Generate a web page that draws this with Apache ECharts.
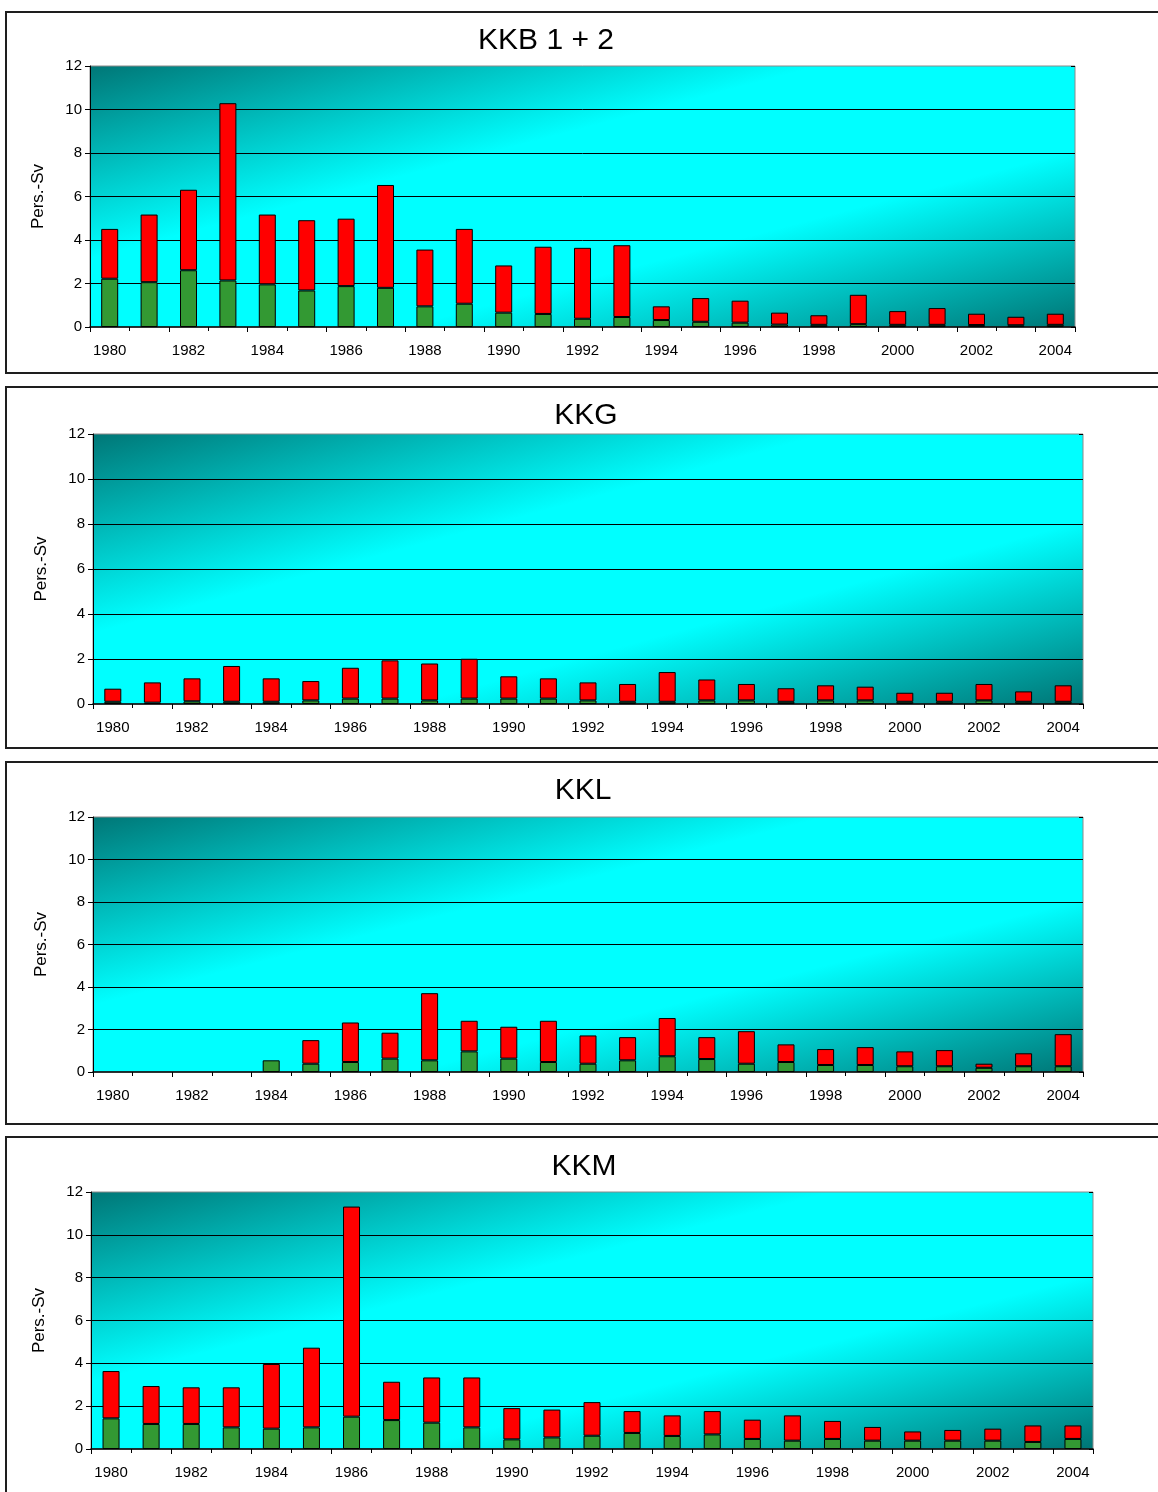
<!DOCTYPE html>
<html>
<head>
<meta charset="utf-8">
<script src="https://cdn.jsdelivr.net/npm/echarts@6/dist/echarts.min.js"></script>
<style>
html,body{margin:0;padding:0;background:#fff;}
#c{width:1158px;height:1492px;}
</style>
</head>
<body>
<div id="c"></div>
<script>
// ---- data ----
const years = ['1980','1981','1982','1983','1984','1985','1986','1987','1988','1989','1990','1991','1992',
  '1993','1994','1995','1996','1997','1998','1999','2000','2001','2002','2003','2004'];
const yTicks = [0, 2, 4, 6, 8, 10, 12];
const titles = ['KKB 1 + 2', 'KKG', 'KKL', 'KKM'];
const yName = 'Pers.-Sv';

const kkbGreen = [2.22,2.06,2.61,2.14,1.96,1.68,1.88,1.80,0.95,1.07,0.66,0.60,0.38,0.46,0.32,0.24,0.20,0.11,0.10,0.13,0.10,0.10,0.09,0.08,0.10];
const kkbRed   = [2.29,3.11,3.70,8.15,3.21,3.23,3.10,4.73,2.61,3.44,2.17,3.09,3.26,3.30,0.63,1.09,1.01,0.55,0.44,1.35,0.63,0.77,0.52,0.39,0.51];

const kkgGreen = [0.10,0.06,0.12,0.10,0.10,0.16,0.24,0.24,0.16,0.24,0.24,0.24,0.16,0.10,0.10,0.16,0.16,0.10,0.16,0.16,0.10,0.10,0.16,0.10,0.10];
const kkgRed   = [0.58,0.90,1.02,1.59,1.04,0.86,1.37,1.70,1.64,1.77,0.99,0.90,0.80,0.79,1.32,0.93,0.73,0.60,0.67,0.61,0.40,0.40,0.73,0.46,0.73];

const kklGreen = [null,null,null,null,0.55,0.39,0.47,0.63,0.55,0.97,0.63,0.47,0.39,0.55,0.74,0.61,0.39,0.47,0.33,0.33,0.27,0.27,0.20,0.27,0.27];
const kklRed   = [null,null,null,null,null,1.11,1.86,1.22,3.16,1.44,1.50,1.94,1.33,1.09,1.80,1.03,1.53,0.83,0.75,0.84,0.70,0.76,0.19,0.61,1.51];

const kkmGreen = [1.43,1.17,1.17,1.01,0.95,1.01,1.51,1.35,1.23,1.01,0.45,0.54,0.62,0.75,0.61,0.68,0.47,0.39,0.47,0.39,0.39,0.39,0.39,0.33,0.47];
const kkmRed   = [2.21,1.77,1.71,1.87,3.02,3.72,9.81,1.79,2.11,2.33,1.46,1.30,1.57,1.02,0.96,1.09,0.90,1.18,0.84,0.64,0.43,0.50,0.56,0.77,0.63];

const greens = [kkbGreen, kkgGreen, kklGreen, kkmGreen];
const reds = [kkbRed, kkgRed, kklRed, kkmRed];

// ---- layout ----
const layout = [
  {grid:{left:90, top:66, width:985, height:261}, titleX:546, titleY:41,  frame:{x:6, y:12,   h:361}},
  {grid:{left:93, top:434, width:990, height:270}, titleX:586, titleY:416, frame:{x:6, y:387,  h:361}},
  {grid:{left:93, top:817, width:990, height:255}, titleX:583, titleY:791, frame:{x:6, y:762,  h:362}},
  {grid:{left:91, top:1192, width:1002, height:257}, titleX:584, titleY:1167, frame:{x:6, y:1137, h:400}}
];

const FONT = '"Liberation Sans", Arial, Helvetica, sans-serif';

// gradient whose mid line runs along the rectangle's anti-diagonal (bottom-left to top-right)
function plotBg(w, h) {
  const L2 = w * w + h * h;
  const dx = h * h / L2, dy = w * w / L2;
  return {
    type:'linear', x:0.5 - dx, y:0.5 - dy, x2:0.5 + dx, y2:0.5 + dy,
    colorStops:[
      {offset:0, color:'#007676'},
      {offset:0.37, color:'#00ffff'},
      {offset:0.66, color:'#00ffff'},
      {offset:1, color:'#007474'}
    ]
  };
}

const grids = [], xAxes = [], yAxes = [], series = [], graphics = [];
layout.forEach((L, i) => {
  grids.push(Object.assign({show:true, backgroundColor:plotBg(L.grid.width, L.grid.height),
    borderColor:'#8a8a8a', borderWidth:1}, L.grid));
  xAxes.push({
    type:'category', gridIndex:i, data:years,
    axisLine:{lineStyle:{color:'#000', width:1.5}},
    axisTick:{show:true, length:5, lineStyle:{color:'#000'}},
    axisLabel:{interval:1, color:'#000', fontSize:15, fontFamily:FONT, margin:16},
    splitLine:{show:false}
  });
  xAxes.push({
    type:'category', gridIndex:i, data:years,
    axisLine:{show:false},
    axisTick:{show:true, inside:true, length:4, lineStyle:{color:'#000'}},
    axisLabel:{show:false}, splitLine:{show:false}
  });
  yAxes.push({
    type:'value', gridIndex:i, min:0, max:12, interval:2,
    name:yName, nameLocation:'middle', nameGap:43,
    nameTextStyle:{fontSize:17, fontFamily:FONT, color:'#000'},
    axisLine:{show:true, lineStyle:{color:'#000', width:1}},
    axisTick:{show:true, length:5, lineStyle:{color:'#000'}},
    axisLabel:{color:'#000', fontSize:15, fontFamily:FONT, margin:8,
      formatter:v => yTicks.indexOf(v) >= 0 ? String(v) : ''},
    splitLine:{show:true, showMinLine:false, showMaxLine:false, lineStyle:{color:'#000', width:1}}
  });
  yAxes.push({
    type:'value', gridIndex:i, min:0, max:12, interval:2,
    axisLine:{show:false},
    axisTick:{show:true, inside:true, length:4, lineStyle:{color:'#000'}},
    axisLabel:{show:false}, splitLine:{show:false}
  });
  const common = {type:'bar', xAxisIndex:2*i, yAxisIndex:2*i, stack:'s'+i, barWidth:17};
  series.push(Object.assign({}, common, {name:'g'+i, data:greens[i], itemStyle:{color:'#339933', borderColor:'#000', borderWidth:1}}));
  series.push(Object.assign({}, common, {name:'r'+i, data:reds[i], itemStyle:{color:'#ff0000', borderColor:'#000', borderWidth:1}}));
  graphics.push({type:'rect', silent:true, z:-1,
    shape:{x:L.frame.x, y:L.frame.y, width:1200, height:L.frame.h},
    style:{fill:'none', stroke:'#1e1e1e', lineWidth:2}});
  graphics.push({type:'text', silent:true, x:L.titleX, y:L.titleY,
    style:{text:titles[i], font:'30px ' + FONT, fill:'#000', textAlign:'center', textVerticalAlign:'middle'}});
});

const chart = echarts.init(document.getElementById('c'), null, {renderer:'canvas'});
chart.setOption({
  animation:false,
  backgroundColor:'#fff',
  grid:grids, xAxis:xAxes, yAxis:yAxes, series:series, graphic:graphics
});
</script>
</body>
</html>
